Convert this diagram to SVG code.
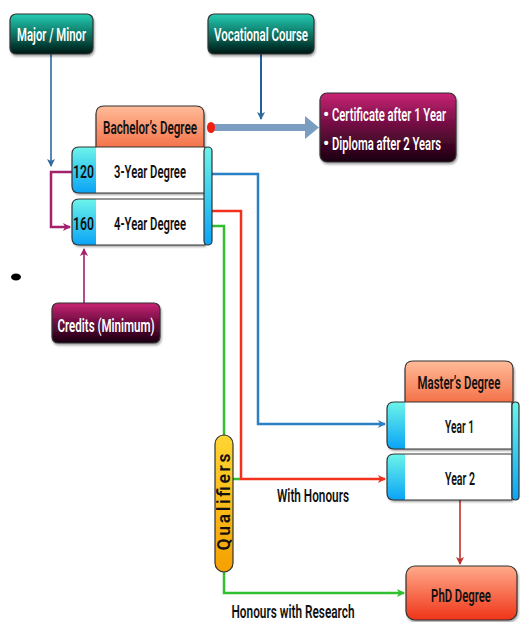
<svg xmlns="http://www.w3.org/2000/svg" width="520" height="622" viewBox="0 0 520 622">
<defs>
<linearGradient id="gTeal" x1="0" y1="0" x2="0" y2="1"><stop offset="0" stop-color="#25cdb3"/><stop offset="0.5" stop-color="#0b7565"/><stop offset="1" stop-color="#001612"/></linearGradient>
<linearGradient id="gMag" x1="0" y1="0" x2="0" y2="1"><stop offset="0" stop-color="#c82474"/><stop offset="0.5" stop-color="#6a0c3e"/><stop offset="1" stop-color="#18000e"/></linearGradient>
<linearGradient id="gOr" x1="0" y1="0" x2="0" y2="1"><stop offset="0" stop-color="#ffbb98"/><stop offset="1" stop-color="#f2643a"/></linearGradient>
<linearGradient id="gPhd" x1="0" y1="0" x2="0" y2="1"><stop offset="0" stop-color="#ffab8a"/><stop offset="1" stop-color="#ef3418"/></linearGradient>
<linearGradient id="gCy" x1="0" y1="0" x2="0" y2="1"><stop offset="0" stop-color="#6cf4ea"/><stop offset="1" stop-color="#0aa4f6"/></linearGradient>
<linearGradient id="gYel" x1="0" y1="0" x2="0" y2="1"><stop offset="0" stop-color="#ffd632"/><stop offset="1" stop-color="#f5a000"/></linearGradient>
<filter id="sh" x="-10%" y="-10%" width="130%" height="140%"><feDropShadow dx="1" dy="2" stdDeviation="1.2" flood-color="#000" flood-opacity="0.35"/></filter>
<marker id="aBlue" markerWidth="8" markerHeight="8" refX="7" refY="4" orient="auto" markerUnits="userSpaceOnUse"><path d="M0,0 L8,4 L0,8 L2,4 Z" fill="#2a80c4"/></marker>
<marker id="aRed" markerWidth="8" markerHeight="8" refX="7" refY="4" orient="auto" markerUnits="userSpaceOnUse"><path d="M0,0 L8,4 L0,8 L2,4 Z" fill="#f2301c"/></marker>
<marker id="aGreen" markerWidth="8" markerHeight="8" refX="7" refY="4" orient="auto" markerUnits="userSpaceOnUse"><path d="M0,0 L8,4 L0,8 L2,4 Z" fill="#2fbf2f"/></marker>
<marker id="aMag" markerWidth="8" markerHeight="8" refX="7" refY="4" orient="auto" markerUnits="userSpaceOnUse"><path d="M0,0 L8,4 L0,8 L2,4 Z" fill="#a3206c"/></marker>
<marker id="aDk" markerWidth="8" markerHeight="8" refX="7" refY="4" orient="auto" markerUnits="userSpaceOnUse"><path d="M0,0 L8,4 L0,8 L2,4 Z" fill="#2e6a9e"/></marker>
<marker id="aDkR" markerWidth="8" markerHeight="8" refX="7" refY="4" orient="auto" markerUnits="userSpaceOnUse"><path d="M0,0 L8,4 L0,8 L2,4 Z" fill="#c03028"/></marker>
</defs>
<style>
text{font-family:Roboto,"Liberation Sans",sans-serif;font-weight:600;font-size:17.5px}
.w{fill:#fff}
.k{fill:#111}
.c{text-anchor:middle}
.ol{stroke:#333;stroke-width:1.2}
.ln{fill:none;stroke-linejoin:miter}
</style>

<g id="connectors">
<path class="ln" d="M51,54 V166" stroke="#2e6a9e" stroke-width="1.6" marker-end="url(#aDk)"/>
<path class="ln" d="M261,54 V119" stroke="#2060a0" stroke-width="2" marker-end="url(#aDk)"/>
<path class="ln" d="M72,172 H51 V227 H70" stroke="#a3206c" stroke-width="2.5" marker-end="url(#aMag)"/>
<path class="ln" d="M84,303 V249" stroke="#a3206c" stroke-width="1.6" marker-end="url(#aMag)"/>
<path class="ln" d="M212,174 H258 V424 H385" stroke="#2a80c4" stroke-width="2.5" marker-end="url(#aBlue)"/>
<path class="ln" d="M212,211 H241 V479 H385" stroke="#f2301c" stroke-width="2.5" marker-end="url(#aRed)"/>
<path class="ln" d="M212,226 H224 V593 H404" stroke="#2fbf2f" stroke-width="2.5" marker-end="url(#aGreen)"/>
<path class="ln" d="M233,479 H240" stroke="#2fbf2f" stroke-width="2.5"/>
<path class="ln" d="M460,500 V564" stroke="#c03028" stroke-width="1.6" marker-end="url(#aDkR)"/>
<path d="M212,124 H305 V116 L319,127.5 L305,139 V131 H212 Z" fill="#7b9dc2"/>
<ellipse cx="211" cy="127.5" rx="4" ry="5.5" fill="#f01e10"/>
</g>

<g id="major-minor">
<rect x="10" y="14" width="83" height="40" rx="6" fill="url(#gTeal)" class="ol" filter="url(#sh)"/>
<text x="51.5" y="41" class="w c" textLength="69" lengthAdjust="spacingAndGlyphs">Major / Minor</text>
</g>

<g id="vocational-course">
<rect x="208" y="14" width="106" height="40" rx="6" fill="url(#gTeal)" class="ol" filter="url(#sh)"/>
<text x="261" y="41" class="w c" textLength="94" lengthAdjust="spacingAndGlyphs">Vocational Course</text>
</g>

<g id="certificate">
<rect x="320" y="93" width="136" height="69" rx="7" fill="url(#gMag)" class="ol" filter="url(#sh)"/>
<text x="323" y="121" class="w" font-size="13">•</text>
<text x="332" y="121" class="w" textLength="114" lengthAdjust="spacingAndGlyphs">Certificate after 1 Year</text>
<text x="323" y="150" class="w" font-size="13">•</text>
<text x="332" y="150" class="w" textLength="109" lengthAdjust="spacingAndGlyphs">Diploma after 2 Years</text>
</g>

<g id="bachelors-degree">
<path d="M96,156 V114 Q96,106 104,106 H196 Q204,106 204,114 V156 Z" fill="url(#gOr)" class="ol" filter="url(#sh)"/>
<text x="150" y="134" class="k c" textLength="94" lengthAdjust="spacingAndGlyphs">Bachelor’s Degree</text>
</g>

<g id="three-year-degree">
<path d="M205,147 H79 Q72,147 72,154 V186 Q72,193 79,193 H205 Z" fill="url(#gCy)" filter="url(#sh)"/>
<rect x="96" y="147" width="109" height="46" fill="#fff"/>
<path d="M205,147 H79 Q72,147 72,154 V186 Q72,193 79,193 H205 Z" fill="none" class="ol"/>
<text x="83.5" y="178" class="k c" textLength="21" lengthAdjust="spacingAndGlyphs">120</text>
<text x="150" y="178" class="k c" textLength="72" lengthAdjust="spacingAndGlyphs">3-Year Degree</text>
</g>

<g id="four-year-degree">
<path d="M205,199 H79 Q72,199 72,206 V238 Q72,245 79,245 H205 Z" fill="url(#gCy)" filter="url(#sh)"/>
<rect x="96" y="199" width="109" height="46" fill="#fff"/>
<path d="M205,199 H79 Q72,199 72,206 V238 Q72,245 79,245 H205 Z" fill="none" class="ol"/>
<text x="83.5" y="230" class="k c" textLength="21" lengthAdjust="spacingAndGlyphs">160</text>
<text x="150" y="230" class="k c" textLength="72" lengthAdjust="spacingAndGlyphs">4-Year Degree</text>
</g>
<g id="bachelor-bar">
<rect x="204" y="147" width="8" height="98" rx="4" fill="url(#gCy)" class="ol"/>
</g>

<g id="credits">
<rect x="52" y="303" width="108" height="40" rx="6" fill="url(#gMag)" class="ol" filter="url(#sh)"/>
<text x="106" y="332" class="w c" textLength="97" lengthAdjust="spacingAndGlyphs">Credits (Minimum)</text>
</g>

<ellipse id="dot" cx="16" cy="277" rx="5" ry="3.5" fill="#000"/>

<g id="masters-degree">
<path d="M405,410 V369 Q405,361 413,361 H505 Q513,361 513,369 V410 Z" fill="url(#gOr)" class="ol" filter="url(#sh)"/>
<text transform="translate(459,389) scale(0.72,1)" class="k c" textLength="115" lengthAdjust="spacingAndGlyphs">Master’s Degree</text>
</g>

<g id="year-1">
<path d="M512,402 H394 Q387,402 387,409 V442 Q387,449 394,449 H512 Z" fill="url(#gCy)" filter="url(#sh)"/>
<rect x="405" y="402" width="107" height="47" fill="#fff"/>
<path d="M512,402 H394 Q387,402 387,409 V442 Q387,449 394,449 H512 Z" fill="none" class="ol"/>
<text x="459.5" y="433" class="k c" textLength="29" lengthAdjust="spacingAndGlyphs">Year 1</text>
</g>

<g id="year-2">
<path d="M512,454 H394 Q387,454 387,461 V493 Q387,500 394,500 H512 Z" fill="url(#gCy)" filter="url(#sh)"/>
<rect x="405" y="454" width="107" height="46" fill="#fff"/>
<path d="M512,454 H394 Q387,454 387,461 V493 Q387,500 394,500 H512 Z" fill="none" class="ol"/>
<text x="460" y="485" class="k c" textLength="30" lengthAdjust="spacingAndGlyphs">Year 2</text>
</g>
<g id="master-bar">
<rect x="512" y="402" width="7" height="98" rx="3.5" fill="url(#gCy)" class="ol"/>
</g>

<g id="qualifiers">
<rect x="215" y="435" width="18" height="137" rx="9" fill="url(#gYel)" class="ol"/>
<text transform="translate(229.5,502) rotate(-90)" class="k c" font-family="'Liberation Sans',Arial,sans-serif" font-weight="900" font-size="15" textLength="97" lengthAdjust="spacing">Qualifiers</text>
</g>

<g id="phd-degree">
<rect x="406" y="566" width="111" height="54" rx="9" fill="url(#gPhd)" class="ol" filter="url(#sh)"/>
<text transform="translate(461,602) scale(0.72,1)" class="k c" textLength="83" lengthAdjust="spacingAndGlyphs">PhD Degree</text>
</g>

<g id="labels">
<text x="313" y="502" class="k c" font-weight="bold" textLength="72" lengthAdjust="spacingAndGlyphs">With Honours</text>
<text x="293" y="618" class="k c" font-weight="bold" textLength="123" lengthAdjust="spacingAndGlyphs">Honours with Research</text>
</g>
</svg>
